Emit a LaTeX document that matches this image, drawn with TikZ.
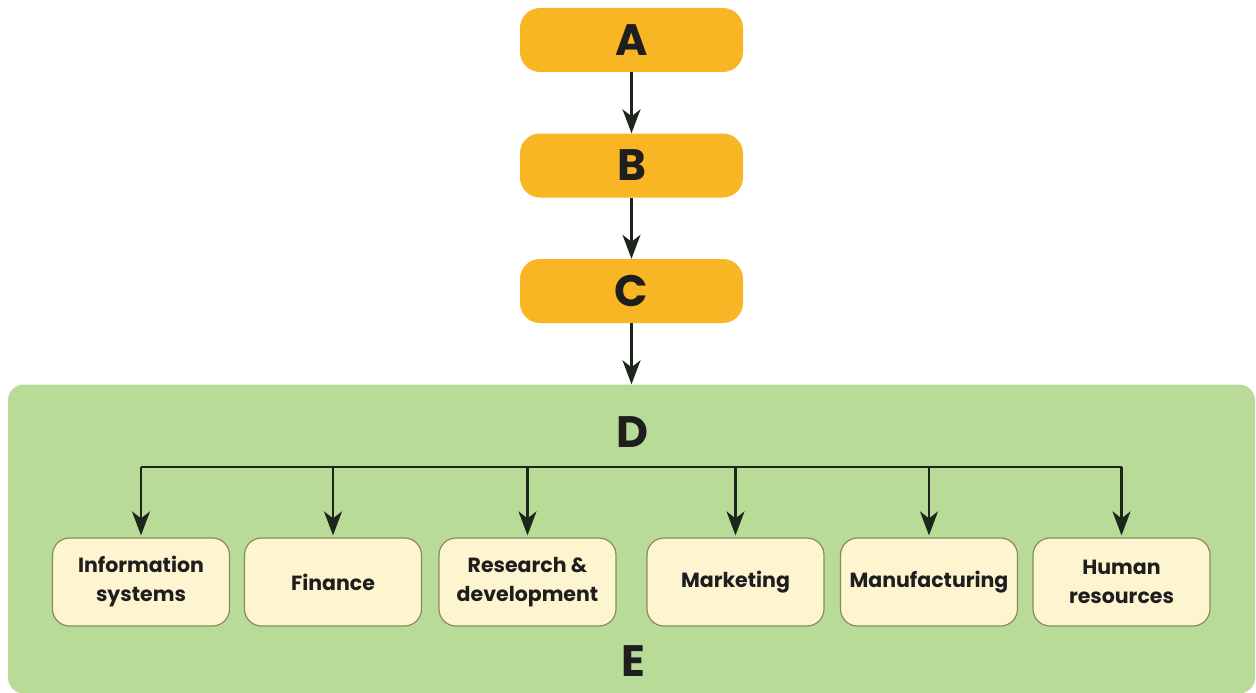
\documentclass[tikz,border=0pt]{standalone}
\usepackage{fontspec}
\setmainfont{Poppins}
\usetikzlibrary{arrows.meta}
\definecolor{orng}{HTML}{F8B524}
\definecolor{grn}{HTML}{B9DB98}
\definecolor{cream}{HTML}{FDF4D0}
\definecolor{bord}{HTML}{8A8A60}
\definecolor{ink}{HTML}{1E1E1E}
\definecolor{lne}{HTML}{1C261A}
\tikzset{
  topbox/.style={fill=orng, rounded corners=20pt, minimum width=223pt, minimum height=64pt, inner sep=0pt,
    font=\fontsize{44}{48}\selectfont\bfseries, text=ink},
  dept/.style={fill=cream, draw=bord, line width=1.2pt, rounded corners=17pt, minimum width=177pt, minimum height=88pt,
    inner sep=0pt, align=center, font=\fontsize{20.5}{29}\selectfont\bfseries, text=ink},
  biglbl/.style={font=\fontsize{44}{48}\selectfont\bfseries, text=ink, inner sep=0pt},
  arr/.style={draw=lne, line width=2.2pt, -{Stealth[length=24pt, width=18pt, inset=7pt]}},
  bar/.style={draw=lne, line width=2.2pt},
}
\begin{document}
\begin{tikzpicture}[x=1pt, y=-1pt]
\useasboundingbox (0,0) rectangle (1256,693);
\fill[white] (0,0) rectangle (1256,693);
\node[fill=grn, rounded corners=16pt, minimum width=1247pt, minimum height=309pt, inner sep=0pt] (green) at (631.5,539) {};
\node[topbox] (A) at (631.5,40) {A};
\node[topbox] (B) at (631.5,165.5) {B};
\node[topbox] (C) at (631.5,291) {C};
\draw[arr] (A.south) -- (B.north);
\draw[arr] (B.south) -- (C.north);
\draw[arr] (C.south) -- (green.north);
\node[biglbl] (D) at (632,432) {D};
\node[biglbl] (E) at (633,661) {E};
\node[dept] (b1) at (141,582) {Information\\systems};
\node[dept] (b2) at (333,582) {Finance};
\node[dept] (b3) at (527.5,582) {Research \&\\development};
\node[dept] (b4) at (735.5,582) {Marketing};
\node[dept] (b5) at (929,582) {Manufacturing};
\node[dept] (b6) at (1121.5,582) {Human\\resources};
\coordinate (bar) at (631,467);
\draw[bar] (b1.north |- bar) -- (b6.north |- bar);
\foreach \b in {b1,b2,b3,b4,b5,b6} {
  \draw[arr, shorten >=2pt] (\b.north |- bar) -- (\b.north);
}
\end{tikzpicture}
\end{document}
